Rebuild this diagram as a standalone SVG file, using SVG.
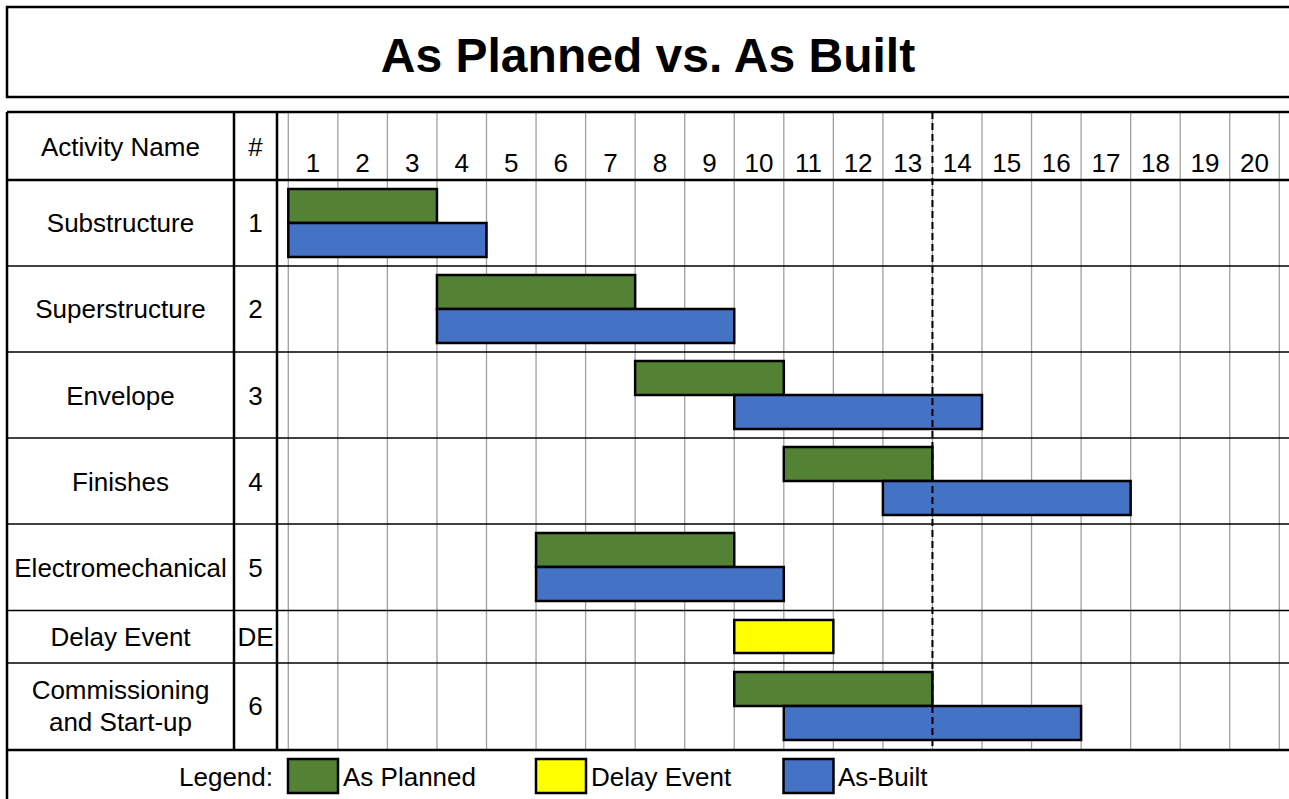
<svg xmlns="http://www.w3.org/2000/svg" width="1289" height="799" viewBox="0 0 1289 799">
<style>
text{font-family:"Liberation Sans",Arial,sans-serif;font-size:26px;fill:#000;text-anchor:middle}
.title{font-size:48px;font-weight:bold}
.grid{stroke:#a0a0a0;stroke-width:1.3}
.thick{stroke:#000;stroke-width:2.5}
.thin{stroke:#000;stroke-width:1.5}
.bar{stroke:#000;stroke-width:2.5}
.pl{fill:#548235}
.ab{fill:#4472C4}
.de{fill:#FFFF00}
</style>
<rect width="1289" height="799" fill="#fff"/>
<g id="title">
<rect x="7" y="7" width="1290" height="90" fill="none" stroke="#000" stroke-width="2.5"/>
<text class="title" x="648" y="72">As Planned vs. As Built</text>
</g>
<g id="grid">
<g class="grid">
<line x1="288.3" y1="112" x2="288.3" y2="750"/><line x1="337.85" y1="112" x2="337.85" y2="750"/><line x1="387.4" y1="112" x2="387.4" y2="750"/><line x1="436.95" y1="112" x2="436.95" y2="750"/><line x1="486.5" y1="112" x2="486.5" y2="750"/><line x1="536.05" y1="112" x2="536.05" y2="750"/><line x1="585.6" y1="112" x2="585.6" y2="750"/><line x1="635.15" y1="112" x2="635.15" y2="750"/><line x1="684.7" y1="112" x2="684.7" y2="750"/><line x1="734.25" y1="112" x2="734.25" y2="750"/><line x1="783.8" y1="112" x2="783.8" y2="750"/><line x1="833.35" y1="112" x2="833.35" y2="750"/><line x1="882.9" y1="112" x2="882.9" y2="750"/><line x1="932.45" y1="112" x2="932.45" y2="750"/><line x1="982" y1="112" x2="982" y2="750"/><line x1="1031.55" y1="112" x2="1031.55" y2="750"/><line x1="1081.1" y1="112" x2="1081.1" y2="750"/><line x1="1130.65" y1="112" x2="1130.65" y2="750"/><line x1="1180.2" y1="112" x2="1180.2" y2="750"/><line x1="1229.75" y1="112" x2="1229.75" y2="750"/><line x1="1279.3" y1="112" x2="1279.3" y2="750"/>
</g>
<g class="thin">
<line x1="7" y1="266" x2="1289" y2="266"/><line x1="7" y1="352" x2="1289" y2="352"/><line x1="7" y1="438" x2="1289" y2="438"/><line x1="7" y1="524" x2="1289" y2="524"/><line x1="7" y1="610.5" x2="1289" y2="610.5"/><line x1="7" y1="663" x2="1289" y2="663"/>
</g>
<g class="thick">
<line x1="7" y1="112" x2="1289" y2="112"/><line x1="7" y1="180" x2="1289" y2="180"/><line x1="7" y1="750" x2="1289" y2="750"/>
<line x1="7" y1="112" x2="7" y2="799"/><line x1="234" y1="112" x2="234" y2="750"/><line x1="277" y1="112" x2="277" y2="750"/>
</g>
</g>
<g id="header">
<text x="120.5" y="156">Activity Name</text>
<text x="255.5" y="156">#</text>
<text x="313.1" y="172">1</text><text x="362.6" y="172">2</text><text x="412.2" y="172">3</text><text x="461.7" y="172">4</text><text x="511.3" y="172">5</text><text x="560.8" y="172">6</text><text x="610.4" y="172">7</text><text x="659.9" y="172">8</text><text x="709.5" y="172">9</text><text x="759" y="172">10</text><text x="808.6" y="172">11</text><text x="858.1" y="172">12</text><text x="907.7" y="172">13</text><text x="957.2" y="172">14</text><text x="1006.8" y="172">15</text><text x="1056.3" y="172">16</text><text x="1105.9" y="172">17</text><text x="1155.4" y="172">18</text><text x="1205" y="172">19</text><text x="1254.5" y="172">20</text>
</g>
<g id="row1">
<text x="120.5" y="232">Substructure</text><text x="255.5" y="232">1</text>
<rect class="bar pl" x="288.3" y="189" width="148.65" height="34"/>
<rect class="bar ab" x="288.3" y="223" width="198.2" height="34"/>
</g>
<g id="row2">
<text x="120.5" y="318">Superstructure</text><text x="255.5" y="318">2</text>
<rect class="bar pl" x="436.95" y="275" width="198.2" height="34"/>
<rect class="bar ab" x="436.95" y="309" width="297.3" height="34"/>
</g>
<g id="row3">
<text x="120.5" y="405">Envelope</text><text x="255.5" y="405">3</text>
<rect class="bar pl" x="635.15" y="361" width="148.65" height="34"/>
<rect class="bar ab" x="734.25" y="395" width="247.75" height="34"/>
</g>
<g id="row4">
<text x="120.5" y="491">Finishes</text><text x="255.5" y="491">4</text>
<rect class="bar pl" x="783.8" y="447" width="148.65" height="34"/>
<rect class="bar ab" x="882.9" y="481" width="247.75" height="34"/>
</g>
<g id="row5">
<text x="120.5" y="577">Electromechanical</text><text x="255.5" y="577">5</text>
<rect class="bar pl" x="536.05" y="533" width="198.2" height="34"/>
<rect class="bar ab" x="536.05" y="567" width="247.75" height="34"/>
</g>
<g id="rowDE">
<text x="120.5" y="646">Delay Event</text><text x="255.5" y="646">DE</text>
<rect class="bar de" x="734.25" y="620" width="99.1" height="33"/>
</g>
<g id="row6">
<text x="120.5" y="699">Commissioning</text><text x="120.5" y="731">and Start-up</text><text x="255.5" y="715">6</text>
<rect class="bar pl" x="734.25" y="672" width="198.2" height="34"/>
<rect class="bar ab" x="783.8" y="706" width="297.3" height="34"/>
</g>
<g id="connectors">
<line x1="932.45" y1="112" x2="932.45" y2="750" stroke="#000" stroke-width="2" stroke-dasharray="7 4"/>
</g>
<g id="legend">
<text x="273" y="786" style="text-anchor:end">Legend:</text>
<rect class="bar pl" x="288" y="759" width="50" height="34"/>
<text x="343" y="786" style="text-anchor:start">As Planned</text>
<rect class="bar de" x="536" y="759" width="50" height="34"/>
<text x="591" y="786" style="text-anchor:start">Delay Event</text>
<rect class="bar ab" x="783.5" y="759" width="50" height="34"/>
<text x="838" y="786" style="text-anchor:start">As-Built</text>
</g>
</svg>
